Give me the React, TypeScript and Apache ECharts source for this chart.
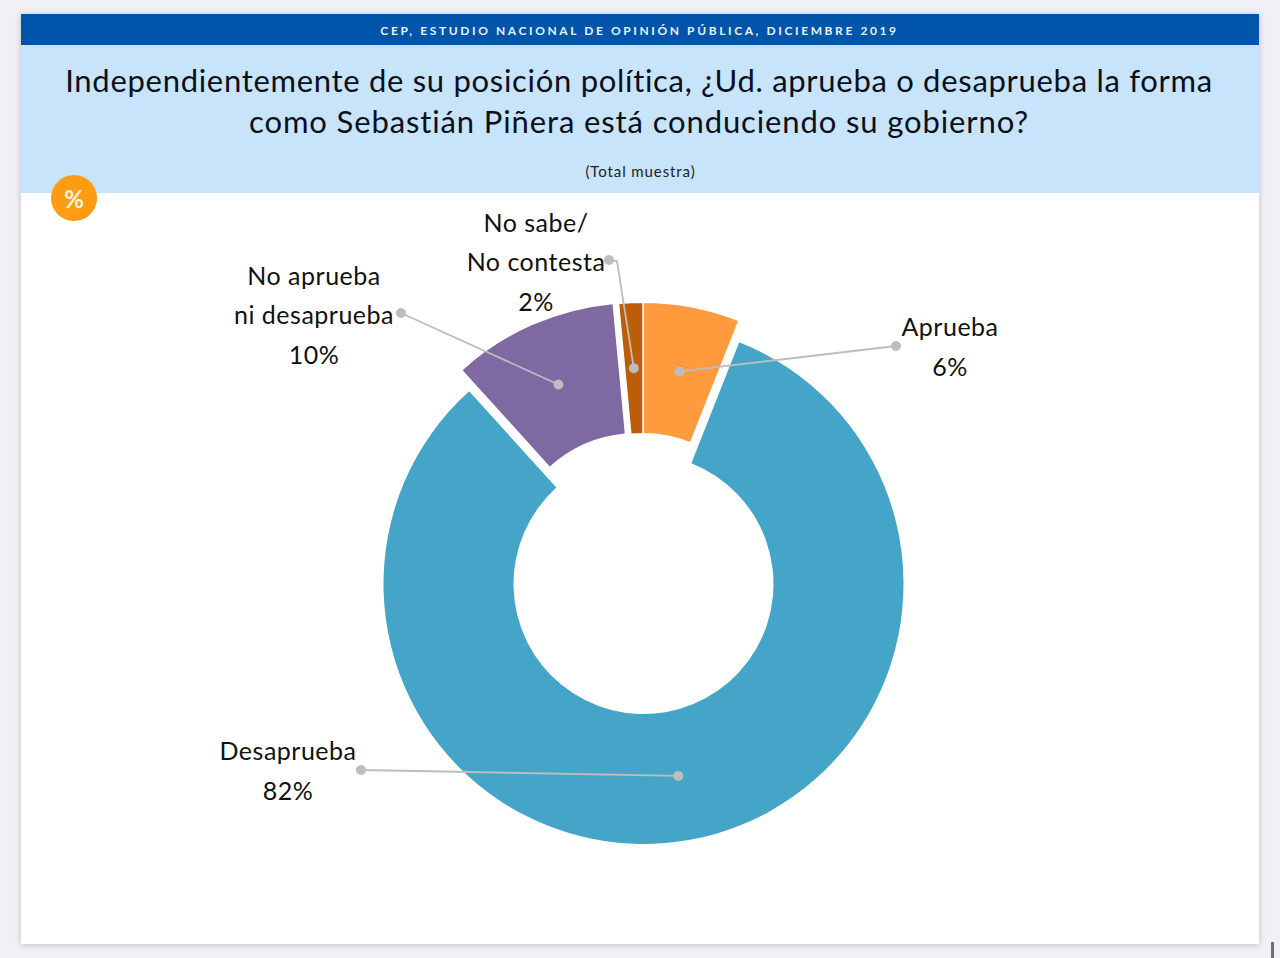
import React, { useEffect, useRef } from "react";
import * as echarts from "echarts";

const categories = ["Aprueba", "Desaprueba", "No aprueba\nni desaprueba", "No sabe/\nNo contesta"];
const values = [6.0, 82.3, 10.2, 1.5];
const colors = ["#FF9A3D", "#44A5C9", "#7F69A3", "#BD5D08"];
const headerText = "CEP, ESTUDIO NACIONAL DE OPINIÓN PÚBLICA, DICIEMBRE 2019";
const titleLines = [
  "Independientemente de su posición política, ¿Ud. aprueba o desaprueba la forma",
  "como Sebastián Piñera está conduciendo su gobierno?",
];
const subtitle = "(Total muestra)";

const FONT = "Lato, 'Open Sans', sans-serif";
const R_ANCHOR = 195;

// each slice's own centre (exploded slices), its white edge, label centre and leader line ends
const sliceCentres = [
  [643, 563],
  [643.5, 584],
  [637, 563],
  [643, 563],
];
const sliceBorders = [1.5, 0, 0, 1.5];
const labelPos = [
  { x: 950, y: 346 },
  { x: 288, y: 770 },
  { x: 314, y: 314 },
  { x: 536, y: 261 },
];
const leaderEnds: number[][][] = [
  [[896, 346]],
  [[361, 770]],
  [[401, 313]],
  [[609, 260], [617, 261]],
];

function anchors() {
  const total = values.reduce((a, b) => a + b, 0);
  let acc = 0;
  return values.map((v, i) => {
    const mid = ((acc + v / 2) / total) * Math.PI * 2;
    acc += v;
    const [cx, cy] = sliceCentres[i];
    return [cx + R_ANCHOR * Math.sin(mid), cy - R_ANCHOR * Math.cos(mid)];
  });
}

function pieSeries(slice: number) {
  const border = sliceBorders[slice];
  return {
    type: "pie",
    silent: true,
    center: sliceCentres[slice],
    radius: [130 - border / 2, 260 + border / 2],
    startAngle: 90,
    clockwise: true,
    avoidLabelOverlap: false,
    labelLine: { show: false },
    labelLayout: (p: any) => ({
      x: labelPos[p.dataIndex].x,
      y: labelPos[p.dataIndex].y,
      align: "center",
      verticalAlign: "middle",
    }),
    data: categories.map((name, i) => {
      const own = i === slice;
      return {
        name,
        value: values[i],
        itemStyle: own
          ? { color: colors[i], borderColor: "#fff", borderWidth: border }
          : { color: "transparent", borderWidth: 0 },
        label: own
          ? {
              show: true,
              position: "outside",
              formatter: `${name}\n${Math.round(values[i])}%`,
              fontFamily: FONT,
              fontSize: 25,
              lineHeight: 39.5,
              color: "#111",
              align: "center",
            }
          : { show: false },
      };
    }),
  };
}

function leaders() {
  const a = anchors();
  const out: any[] = [];
  const grey = "#BDBDBD";
  a.forEach((pt, i) => {
    const ends = leaderEnds[i];
    const pts = [...ends, pt];
    out.push({
      type: "polyline",
      z: 20,
      shape: { points: pts },
      style: { stroke: grey, lineWidth: 1.8, fill: "none" },
    });
    [ends[0], pt].forEach((c) =>
      out.push({
        type: "circle",
        z: 21,
        shape: { cx: c[0], cy: c[1], r: 5 },
        style: { fill: grey },
      })
    );
  });
  return out;
}

export default function App() {
  const ref = useRef<HTMLDivElement>(null);
  useEffect(() => {
    const chart = echarts.init(ref.current!, undefined, { renderer: "svg" });
    chart.setOption({
      animation: false,
      backgroundColor: "#F1F0F6",
      graphic: [
        {
          type: "rect",
          z: 0,
          shape: { x: 21, y: 14, width: 1238, height: 930 },
          style: { fill: "#fff", shadowBlur: 6, shadowColor: "rgba(0,0,0,0.22)", shadowOffsetY: 1 },
        },
        { type: "rect", z: 1, shape: { x: 21, y: 45, width: 1238, height: 148 }, style: { fill: "#C8E4FA" } },
        { type: "rect", z: 1, shape: { x: 21, y: 14, width: 1238, height: 31 }, style: { fill: "#0055AA" } },
        { type: "rect", z: 1, shape: { x: 1271, y: 942, width: 3, height: 16 }, style: { fill: "#6F6F75" } },
        {
          type: "text",
          z: 2,
          x: 639.5,
          y: 30,
          style: {
            text: headerText,
            fill: "#E8F2FB",
            font: `700 12px ${FONT}`,
            align: "center",
            verticalAlign: "middle",
          },
        },
        ...titleLines.map((t, i) => ({
          type: "text",
          z: 2,
          x: 639,
          y: 80 + i * 41,
          style: {
            text: t,
            fill: "#0B0F1A",
            font: `400 31px ${FONT}`,
            align: "center",
            verticalAlign: "middle",
          },
        })),
        {
          type: "text",
          z: 2,
          x: 640.5,
          y: 171,
          style: { text: subtitle, fill: "#222", font: `400 15px ${FONT}`, align: "center", verticalAlign: "middle" },
        },
        { type: "circle", z: 3, shape: { cx: 74, cy: 198, r: 23 }, style: { fill: "#FF9C12" } },
        {
          type: "text",
          z: 4,
          x: 74,
          y: 198,
          style: { text: "%", fill: "#FFF4E2", font: `700 24px ${FONT}`, align: "center", verticalAlign: "middle" },
        },
        ...leaders(),
      ],
      series: categories.map((_, i) => pieSeries(i)),
    });
    ref.current!.querySelectorAll("text").forEach((t) => {
      const s = t.textContent || "";
      let spacing = "0.5";
      if (s === headerText) spacing = "2.6";
      else if (s === titleLines[0]) spacing = "0.7";
      else if (s === titleLines[1]) spacing = "0.88";
      else if (s === subtitle) spacing = "0.9";
      else if (s === "%") spacing = "0";
      t.setAttribute("letter-spacing", spacing);
    });
    return () => chart.dispose();
  }, []);
  return <div ref={ref} style={{ position: "fixed", left: 0, top: 0, width: 1280, height: 958 }} />;
}
